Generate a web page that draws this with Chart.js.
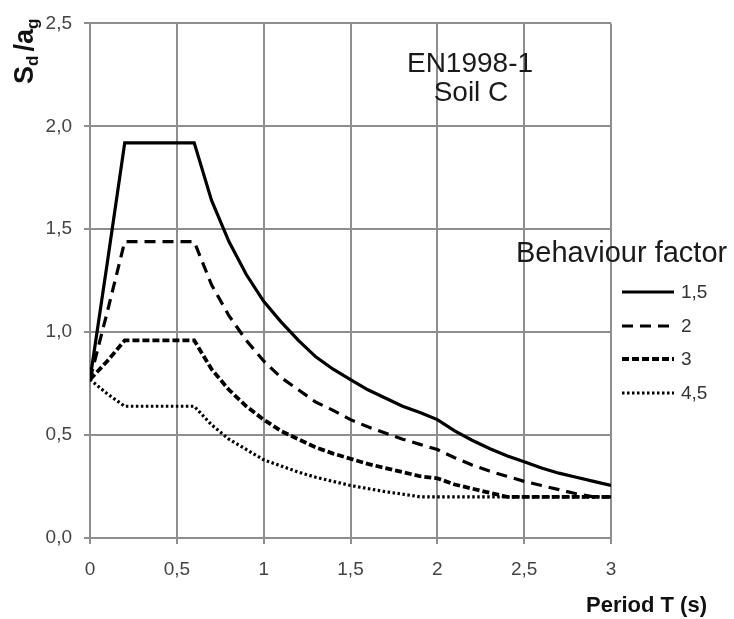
<!DOCTYPE html>
<html>
<head>
<meta charset="utf-8">
<script src="https://cdn.jsdelivr.net/npm/chart.js@4"></script>
<style>
html,body{margin:0;padding:0;background:#fff;}
canvas{display:block;}
</style>
</head>
<body>
<canvas id="c" width="734" height="619"></canvas>
<script>
// Period T (s)
const periods = [0,0.1,0.2,0.3,0.4,0.5,0.6,0.7,0.8,0.9,1.0,1.1,1.2,1.3,1.4,1.5,1.6,1.7,1.8,1.9,2.0,2.1,2.2,2.3,2.4,2.5,2.6,2.7,2.8,2.9,3.0];
// Sd/ag per behaviour factor
const q15 = [0.77,1.34,1.92,1.92,1.92,1.92,1.92,1.64,1.44,1.28,1.15,1.05,0.96,0.88,0.82,0.77,0.72,0.68,0.64,0.61,0.575,0.52,0.475,0.435,0.40,0.37,0.34,0.315,0.295,0.275,0.255];
const q2  = [0.77,1.10,1.44,1.44,1.44,1.44,1.44,1.23,1.08,0.96,0.86,0.78,0.72,0.66,0.62,0.575,0.54,0.51,0.48,0.455,0.43,0.39,0.355,0.325,0.30,0.275,0.255,0.235,0.215,0.20,0.20];
const q3  = [0.77,0.86,0.96,0.96,0.96,0.96,0.96,0.82,0.72,0.64,0.575,0.52,0.48,0.44,0.41,0.385,0.36,0.34,0.32,0.30,0.29,0.26,0.24,0.22,0.20,0.20,0.20,0.20,0.20,0.20,0.20];
const q45 = [0.77,0.70,0.64,0.64,0.64,0.64,0.64,0.55,0.48,0.43,0.38,0.35,0.32,0.295,0.275,0.255,0.24,0.225,0.213,0.20,0.20,0.20,0.20,0.20,0.20,0.20,0.20,0.20,0.20,0.20,0.20];
const seriesLabels = ['1,5','2','3','4,5'];
const xTicks = [0,0.5,1,1.5,2,2.5,3];
const yTicks = [0,0.5,1,1.5,2,2.5];

const pts = arr => periods.map((t,i)=>({x:t,y:arr[i]}));
const styles = [
  {borderWidth:3.2, borderDash:[]},
  {borderWidth:3.2, borderDash:[11,7]},
  {borderWidth:3.8, borderDash:[7,3]},
  {borderWidth:3.2, borderDash:[2.5,2.5]}
];
const seriesData = [q15,q2,q3,q45];
const datasets = seriesData.map((arr,i)=>({
  label: seriesLabels[i],
  data: pts(arr),
  borderColor:'#000',
  backgroundColor:'#000',
  borderWidth: styles[i].borderWidth,
  borderDash: styles[i].borderDash,
  pointRadius:0,
  tension:0,
  fill:false
}));

const GRID = '#8e8e8e';
const FONT = "'Liberation Sans', Arial, sans-serif";

const annot = {
  id:'annot',
  afterDraw(chart){
    const ctx = chart.ctx;
    ctx.save();
    ctx.fillStyle = '#1a1a1a';
    // Title text inside plot
    ctx.font = "28px " + FONT;
    ctx.textAlign = 'center';
    ctx.textBaseline = 'alphabetic';
    ctx.fillText('EN1998-1', 470, 72);
    ctx.fillText('Soil C', 471, 101);
    // Legend
    ctx.textAlign = 'left';
    ctx.font = "29px " + FONT;
    ctx.fillText('Behaviour factor', 516, 262);
    const ys = [292, 326, 359, 393];
    chart.data.datasets.forEach((ds,i)=>{
      ctx.save();
      ctx.strokeStyle = ds.borderColor;
      ctx.lineWidth = ds.borderWidth;
      ctx.setLineDash(ds.borderDash || []);
      ctx.beginPath();
      ctx.moveTo(622, ys[i]);
      ctx.lineTo(674, ys[i]);
      ctx.stroke();
      ctx.restore();
      ctx.font = "19px " + FONT;
      ctx.fillStyle = '#333';
      ctx.textBaseline = 'middle';
      ctx.fillText(ds.label, 681, ys[i]+1);
    });
    // X axis title
    ctx.fillStyle = '#111';
    ctx.textBaseline = 'alphabetic';
    ctx.font = "bold 22px " + FONT;
    ctx.fillText('Period T (s)', 586, 612);
    // Y axis title, rotated with subscripts
    ctx.translate(33, 84);
    ctx.rotate(-Math.PI/2);
    let x = 0;
    const part = (txt, size, dy) => {
      ctx.font = "bold " + size + "px " + FONT;
      ctx.fillText(txt, x, dy);
      x += ctx.measureText(txt).width;
    };
    part('S', 27, 0);
    part('d', 17, 5);
    x += 4;
    part('/', 27, 0);
    part('a', 27, 0);
    part('g', 17, 5);
    ctx.restore();
  }
};

new Chart(document.getElementById('c'), {
  type:'line',
  data:{datasets},
  options:{
    responsive:false,
    animation:false,
    devicePixelRatio:1,
    layout:{padding:{top:17,right:123,left:0,bottom:0}},
    plugins:{legend:{display:false},tooltip:{enabled:false}},
    scales:{
      x:{
        type:'linear',
        min:0,max:3,
        afterBuildTicks: s => { s.ticks = xTicks.map(v=>({value:v})); },
        afterFit: s => { s.height = 81; },
        grid:{color:GRID,lineWidth:2,tickLength:6,drawTicks:true,tickColor:GRID},
        border:{color:GRID,width:2},
        ticks:{
          color:'#444',
          padding:14,
          maxRotation:0,
          font:{family:FONT,size:19},
          callback: v => String(v).replace('.',',')
        }
      },
      y:{
        type:'linear',
        min:0,max:2.5,
        afterBuildTicks: s => { s.ticks = yTicks.map(v=>({value:v})); },
        afterFit: s => { s.width = 90; },
        grid:{color:GRID,lineWidth:2,tickLength:6,drawTicks:true,tickColor:GRID},
        border:{color:GRID,width:2},
        ticks:{
          color:'#444',
          padding:12,
          font:{family:FONT,size:19},
          callback: v => v.toFixed(1).replace('.',',')
        }
      }
    }
  },
  plugins:[annot]
});
</script>
</body>
</html>
